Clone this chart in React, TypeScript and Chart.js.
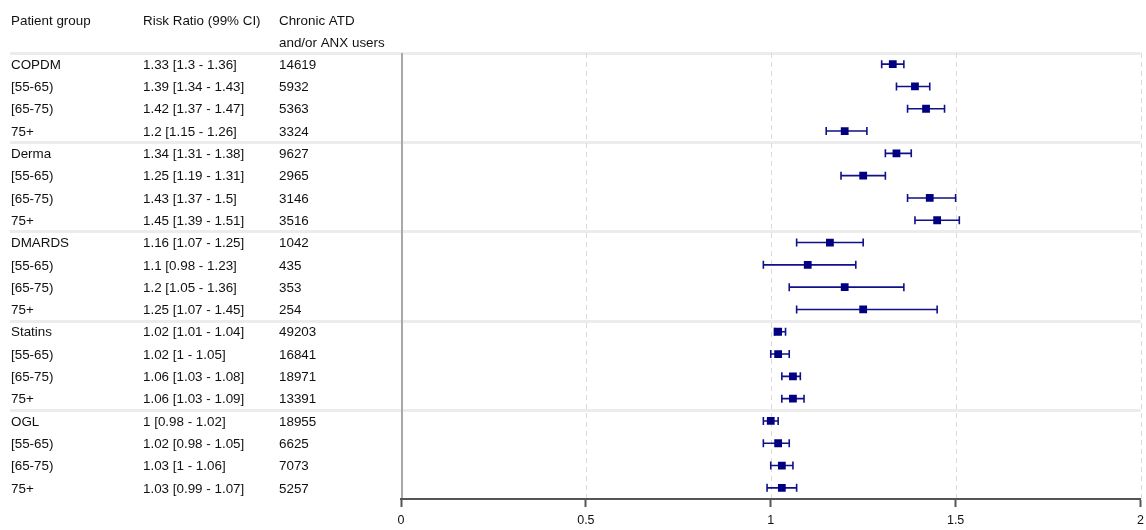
import React, { useEffect, useRef } from 'react';
import { Chart, registerables } from 'chart.js';

Chart.register(...registerables);

const patientGroups = [
  'COPDM', '[55-65)', '[65-75)', '75+',
  'Derma', '[55-65)', '[65-75)', '75+',
  'DMARDS', '[55-65)', '[65-75)', '75+',
  'Statins', '[55-65)', '[65-75)', '75+',
  'OGL', '[55-65)', '[65-75)', '75+',
];
const riskRatio = [1.33, 1.39, 1.42, 1.2, 1.34, 1.25, 1.43, 1.45, 1.16, 1.1, 1.2, 1.25, 1.02, 1.02, 1.06, 1.06, 1, 1.02, 1.03, 1.03];
const ciLow = [1.3, 1.34, 1.37, 1.15, 1.31, 1.19, 1.37, 1.39, 1.07, 0.98, 1.05, 1.07, 1.01, 1, 1.03, 1.03, 0.98, 0.98, 1, 0.99];
const ciHigh = [1.36, 1.43, 1.47, 1.26, 1.38, 1.31, 1.5, 1.51, 1.25, 1.23, 1.36, 1.45, 1.04, 1.05, 1.08, 1.09, 1.02, 1.05, 1.06, 1.07];
const users = [14619, 5932, 5363, 3324, 9627, 2965, 3146, 3516, 1042, 435, 353, 254, 49203, 16841, 18971, 13391, 18955, 6625, 7073, 5257];
const groupHeadRows = [0, 4, 8, 12, 16];
const xTicks = [0, 0.5, 1, 1.5, 2];
const gridValues = [0.5, 1, 1.5, 2];
const headerGroup = 'Patient group';
const headerRR = 'Risk Ratio (99% CI)';
const headerUsers = ['Chronic ATD', 'and/or ANX users'];

const NAVY = '#000080';
const FONT = '"Liberation Sans", Arial, sans-serif';

const forestPlugin = {
  id: 'forest',
  beforeDraw(chart: any) {
    const { ctx, chartArea: ca, scales } = chart;
    const x = scales.x;
    const y = scales.y;
    ctx.save();
    const line = (x1: number, y1: number, x2: number, y2: number) => {
      ctx.beginPath();
      ctx.moveTo(x1, y1);
      ctx.lineTo(x2, y2);
      ctx.stroke();
    };
    // group separators
    ctx.strokeStyle = '#ececec';
    ctx.lineWidth = 3;
    groupHeadRows.forEach((r) => {
      const py = Math.round(y.getPixelForValue(r - 0.5)) + 0.5;
      line(10, py, ca.right, py);
    });
    // dashed grid lines
    ctx.setLineDash([5, 4]);
    ctx.strokeStyle = '#dadada';
    ctx.lineWidth = 1;
    gridValues.forEach((v) => {
      const px = Math.round(x.getPixelForValue(v)) + 0.5;
      line(px, ca.top, px, ca.bottom);
    });
    ctx.setLineDash([]);
    // left vertical axis line
    ctx.strokeStyle = '#a8a8a8';
    ctx.lineWidth = 2;
    line(ca.left + 1, ca.top, ca.left + 1, ca.bottom);
    ctx.restore();
  },
  beforeDatasetsDraw(chart: any) {
    const { ctx, scales } = chart;
    const x = scales.x;
    const y = scales.y;
    ctx.save();
    ctx.strokeStyle = '#101088';
    ctx.lineWidth = 1.6;
    riskRatio.forEach((_, i) => {
      const py = y.getPixelForValue(i);
      const x1 = x.getPixelForValue(ciLow[i]);
      const x2 = x.getPixelForValue(ciHigh[i]);
      ctx.beginPath();
      ctx.moveTo(x1, py);
      ctx.lineTo(x2, py);
      ctx.moveTo(x1, py - 4);
      ctx.lineTo(x1, py + 4);
      ctx.moveTo(x2, py - 4);
      ctx.lineTo(x2, py + 4);
      ctx.stroke();
    });
    ctx.restore();
  },
  afterDraw(chart: any) {
    const { ctx, scales } = chart;
    const y = scales.y;
    ctx.save();
    ctx.fillStyle = '#111';
    ctx.font = `13.4px ${FONT}`;
    ctx.textBaseline = 'middle';
    ctx.textAlign = 'left';
    const colX = [11, 143, 279];
    ctx.fillText(headerGroup, colX[0], 21);
    ctx.fillText(headerRR, colX[1], 21);
    ctx.fillText(headerUsers[0], colX[2], 21);
    ctx.fillText(headerUsers[1], colX[2], 43);
    patientGroups.forEach((g, i) => {
      const py = y.getPixelForValue(i) + 1;
      ctx.fillText(g, colX[0], py);
      ctx.fillText(`${riskRatio[i]} [${ciLow[i]} - ${ciHigh[i]}]`, colX[1], py);
      ctx.fillText(String(users[i]), colX[2], py);
    });
    ctx.restore();
  },
};

export default function App() {
  const ref = useRef<HTMLCanvasElement | null>(null);
  useEffect(() => {
    if (!ref.current) return;
    const chart = new Chart(ref.current, {
      type: 'scatter',
      data: {
        datasets: [
          {
            data: riskRatio.map((v, i) => ({ x: v, y: i })),
            pointStyle: 'rect',
            pointRadius: 5.5,
            pointHoverRadius: 5.5,
            backgroundColor: NAVY,
            borderColor: NAVY,
            borderWidth: 0,
          },
        ],
      },
      options: {
        responsive: false,
        animation: false,
        events: [],
        layout: { padding: { left: 401, right: 5, top: 53, bottom: 0 } },
        plugins: { legend: { display: false }, tooltip: { enabled: false } },
        scales: {
          x: {
            type: 'linear',
            min: 0,
            max: 2,
            afterBuildTicks: (scale: any) => {
              scale.ticks = xTicks.map((v) => ({ value: v }));
            },
            afterFit: (scale: any) => {
              scale.height = 31;
              scale.paddingLeft = 0;
              scale.paddingRight = 0;
            },
            grid: {
              drawOnChartArea: false,
              drawTicks: true,
              tickLength: 8,
              tickColor: '#555',
              tickWidth: 2,
            },
            border: { display: true, color: '#555', width: 2 },
            ticks: {
              padding: 6,
              maxRotation: 0,
              color: '#111',
              font: { family: FONT, size: 12.5 },
              callback: (v: any) => String(v),
            },
          },
          y: {
            type: 'linear',
            min: -0.5,
            max: 19.5,
            reverse: true,
            display: false,
          },
        },
      },
      plugins: [forestPlugin],
    });
    return () => chart.destroy();
  }, []);
  return (
    <canvas
      ref={ref}
      width={1146}
      height={530}
      style={{ position: 'fixed', left: 0, top: 0, width: 1146, height: 530 }}
    />
  );
}
